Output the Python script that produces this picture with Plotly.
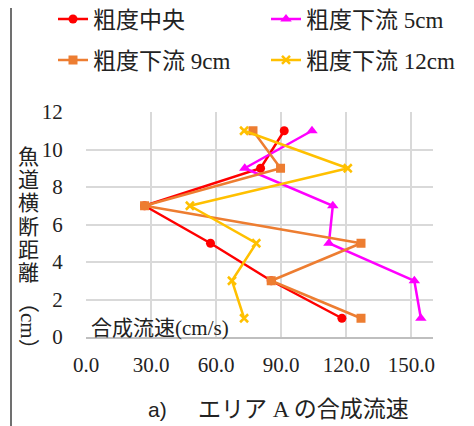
import plotly.graph_objects as go

# data
distance_cm = [1, 3, 5, 7, 9, 11]
s_center = [118.0, 85.4, 57.4, 27.0, 80.5, 91.4]
s_down5 = [154.4, 151.4, 112.0, 113.8, 73.2, 104.2]
s_down9 = [126.8, 85.4, 126.8, 27.0, 89.7, 77.0]
s_down12 = [72.9, 67.3, 78.5, 47.9, 120.7, 72.9]
series_names = ["粗度中央", "粗度下流 5cm", "粗度下流 9cm", "粗度下流 12cm"]
x_ticks = [0, 30, 60, 90, 120, 150]
y_ticks = [0, 2, 4, 6, 8, 10, 12]
y_title_chars = ["魚", "道", "横", "断", "距", "離"]

FONT = "Liberation Serif, Times New Roman, Noto Sans CJK JP, serif"

# page body has an 8px margin; the figure is shrunk and everything offset by it
OFF = 8
W, H = 474 - OFF, 426 - OFF
L, R, T, B = 86 - OFF, 41, 112 - OFF, 89
PW, PH = W - L - R, H - T - B


def px(xp):
    """reference-pixel x -> paper"""
    return (xp - OFF - L) / PW


def py(yp):
    """reference-pixel y -> paper"""
    return (H - B - (yp - OFF)) / PH


fig = go.Figure()
styles = [
    dict(color="#FF0000", symbol="circle", size=9, legend="legend"),
    dict(color="#FF00FF", symbol="triangle-up", size=10, legend="legend"),
    dict(color="#ED7D31", symbol="square", size=9, legend="legend2"),
    dict(color="#FFC000", symbol="x-thin", size=8, legend="legend2"),
]
for name, vals, st in zip(series_names, [s_center, s_down5, s_down9, s_down12], styles):
    marker = dict(color=st["color"], symbol=st["symbol"], size=st["size"])
    if st["symbol"] == "x-thin":
        marker["line"] = dict(color=st["color"], width=2.5)
    fig.add_trace(go.Scatter(
        x=vals, y=distance_cm, name=name, mode="lines+markers",
        line=dict(color=st["color"], width=2.5), marker=marker,
        legend=st["legend"], cliponaxis=False,
    ))

legend_common = dict(
    orientation="h", xanchor="left", yanchor="middle",
    font=dict(family=FONT, size=23, color="#222222"),
    entrywidth=168, entrywidthmode="pixels",
    bgcolor="rgba(0,0,0,0)", itemclick=False,
)
fig.update_layout(
    width=W, height=H,
    margin=dict(l=L, r=R, t=T, b=B, pad=0, autoexpand=False),
    paper_bgcolor="white", plot_bgcolor="white",
    font=dict(family=FONT, size=21, color="#222222"),
    legend=dict(x=px(53), y=py(19), **legend_common),
    legend2=dict(x=px(53), y=py(60), **legend_common),
    xaxis=dict(
        range=[0, 160], tickvals=x_ticks, tickformat=".1f",
        showgrid=True, gridcolor="#D9D9D9", gridwidth=2,
        zeroline=False, showline=True, linecolor="#BFBFBF", linewidth=2,
        ticks="outside", ticklen=8, tickcolor="rgba(0,0,0,0)",
        tickfont=dict(family=FONT, size=21, color="#222222"),
        fixedrange=True, automargin=False,
    ),
    yaxis=dict(
        range=[0, 12], tickvals=y_ticks,
        showgrid=True, gridcolor="#D9D9D9", gridwidth=2,
        zeroline=False, showline=False,
        ticks="outside", ticklen=18, tickcolor="rgba(0,0,0,0)",
        tickfont=dict(family=FONT, size=21, color="#222222"),
        fixedrange=True, automargin=False,
    ),
)

ann = []
# vertical y-axis title
for i, ch in enumerate(y_title_chars):
    ann.append(dict(text=ch, x=px(28), y=py(156.7 + 23.3 * i), xref="paper", yref="paper",
                    xanchor="center", yanchor="middle", showarrow=False,
                    font=dict(family=FONT, size=21, color="#222222")))
ann.append(dict(text="（cm）", x=px(28), y=py(326), xref="paper", yref="paper",
                xanchor="center", yanchor="middle", showarrow=False, textangle=90,
                font=dict(family=FONT, size=21, color="#222222")))
# x title inside plot
ann.append(dict(text="合成流速(cm/s)", x=px(89), y=py(328), xref="paper", yref="paper",
                xanchor="left", yanchor="middle", showarrow=False,
                font=dict(family=FONT, size=21, color="#222222")))
# caption
ann.append(dict(text="a)", x=px(146), y=py(409), xref="paper", yref="paper",
                xanchor="left", yanchor="middle", showarrow=False,
                font=dict(family="Liberation Sans, Arial, sans-serif", size=21, color="#222222")))
ann.append(dict(text="エリア A の合成流速", x=px(196), y=py(409), xref="paper", yref="paper",
                xanchor="left", yanchor="middle", showarrow=False,
                font=dict(family=FONT, size=23, color="#222222")))
fig.update_layout(annotations=ann)

# page border line on left
fig.add_shape(type="line", xref="paper", yref="paper",
              x0=px(11), x1=px(11), y0=py(0), y1=py(426),
              line=dict(color="#404040", width=1.5))

fig.write_html("out.html")
